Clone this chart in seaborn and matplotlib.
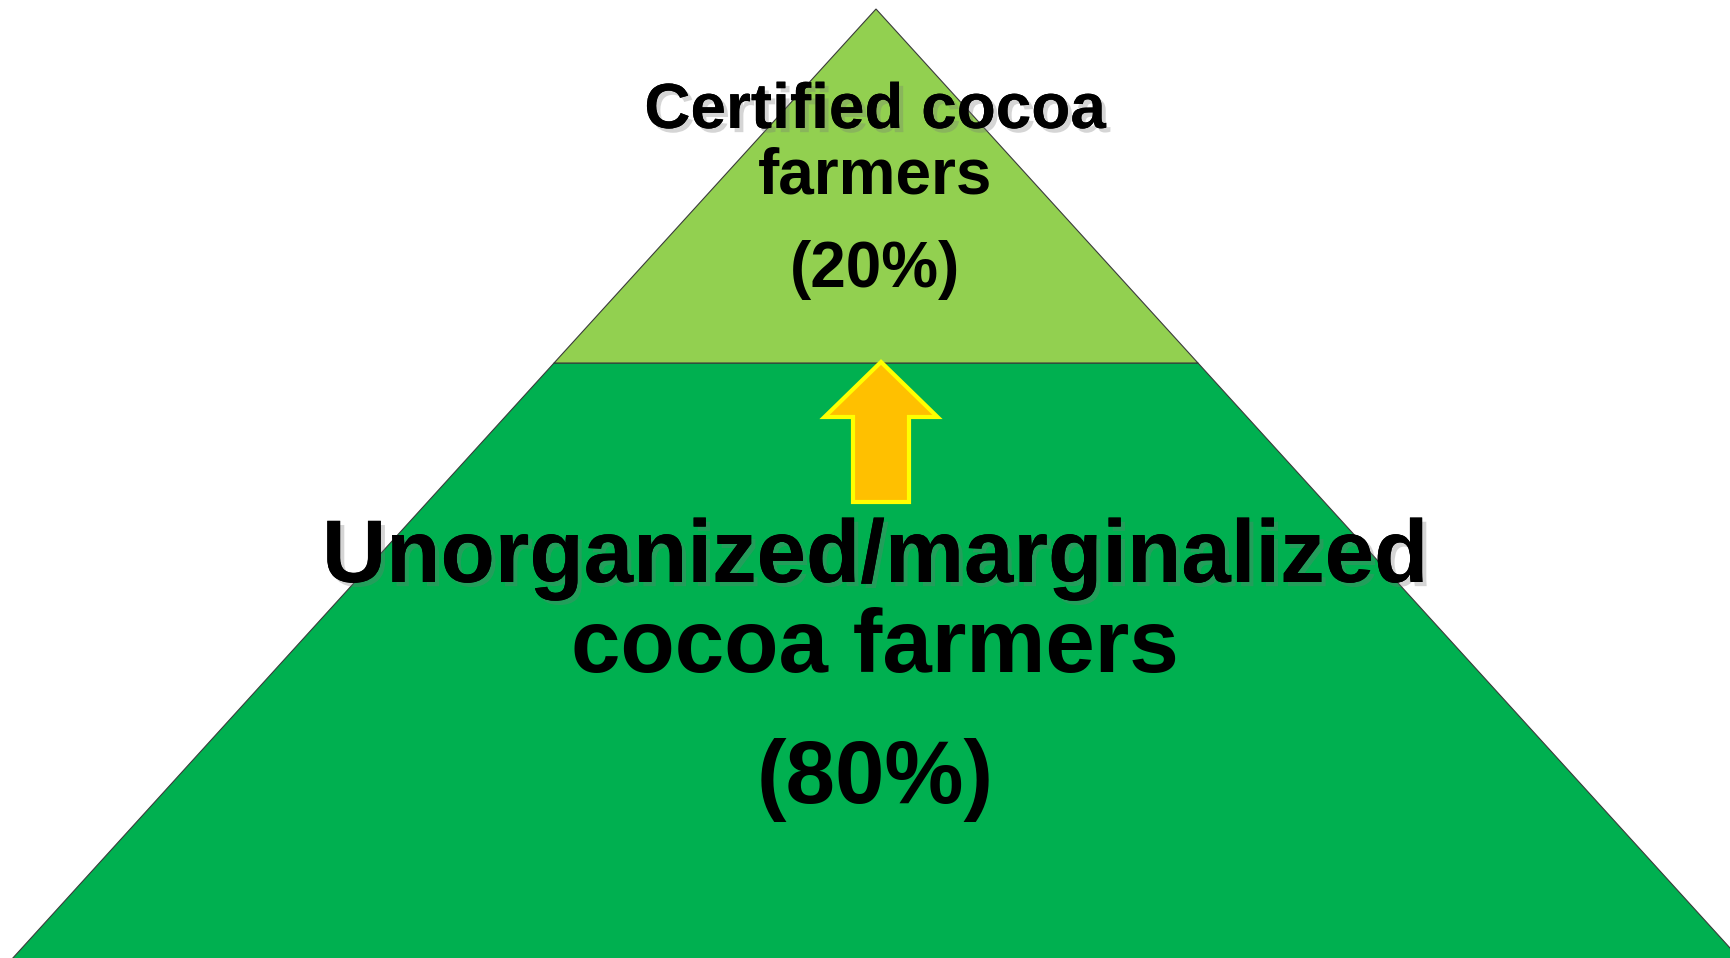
import matplotlib
matplotlib.use("Agg")
import matplotlib.pyplot as plt
import matplotlib.patheffects as pe
from matplotlib.patches import Polygon, FancyArrow
import seaborn as sns

# pyramid levels, top to bottom
levels = ["Certified cocoa\nfarmers", "Unorganized/marginalized\ncocoa farmers"]
shares = ["(20%)", "(80%)"]
level_colors = ["#92D050", "#00B050"]

# geometry in pixel space (y grows downward)
W, H = 1731, 958
apex = (876, 9)
split_y = 363
slope = 0.9095  # half width per pixel of height

sns.set_theme(style="white")
plt.rcParams["font.family"] = ["Liberation Sans", "DejaVu Sans"]

fig = plt.figure(figsize=(W / 100, H / 100), dpi=100)
ax = fig.add_axes([0, 0, 1, 1])
ax.set_xlim(0, W)
ax.set_ylim(H, 0)
ax.axis("off")


def half(y):
    return (y - apex[1]) * slope


# top triangle and bottom trapezoid (run past the bottom edge)
yb = H + 20
top = Polygon([apex, (apex[0] + half(split_y), split_y), (apex[0] - half(split_y), split_y)],
              closed=True, facecolor=level_colors[0], edgecolor="#3a3a3a", lw=0.8)
bot = Polygon([(apex[0] - half(split_y), split_y), (apex[0] + half(split_y), split_y),
               (apex[0] + half(yb), yb), (apex[0] - half(yb), yb)],
              closed=True, facecolor=level_colors[1], edgecolor="#3a3a3a", lw=0.8)
ax.add_patch(bot)
ax.add_patch(top)

# upward arrow
arr = FancyArrow(881, 502, 0, -140, width=56, head_width=113, head_length=55,
                 length_includes_head=True, facecolor="#FFC000", edgecolor="#FFFF00", lw=3)
ax.add_patch(arr)

shadow = [pe.withSimplePatchShadow(offset=(3, -3), shadow_rgbFace="#777777", alpha=0.3), pe.Normal()]

# top labels
for txt, y in zip(levels[0].split("\n") + [shares[0]], [128, 193, 287]):
    t = ax.text(875, y, txt, ha="center", va="baseline", fontsize=46, fontweight="bold", color="black")
    if txt == "Certified cocoa":
        t.set_path_effects(shadow)

# bottom labels
for txt, y in zip(levels[1].split("\n") + [shares[1]], [582, 672, 803]):
    t = ax.text(875, y, txt, ha="center", va="baseline", fontsize=64, fontweight="bold", color="black")
    if txt.startswith("Unorganized"):
        t.set_path_effects(shadow)

fig.savefig("out.png", dpi=100)
